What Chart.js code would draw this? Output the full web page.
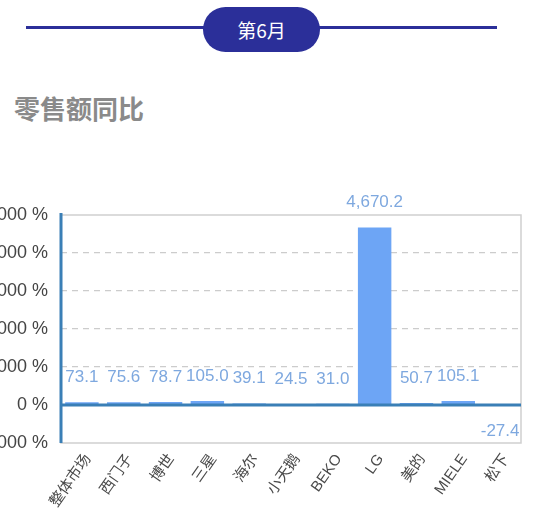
<!DOCTYPE html>
<html lang="zh">
<head>
    <meta charset="UTF-8">
    <title>零售额同比</title>
    <script src="https://cdn.jsdelivr.net/npm/chart.js"></script>
    <style>
        html, body { margin: 0; padding: 0; background: #fff; overflow: hidden; }
        body { width: 550px; height: 529px; position: relative; font-family: "Liberation Sans", "Noto Sans CJK SC", sans-serif; }
        .rule { position: absolute; left: 26px; top: 26px; width: 471px; height: 3px; background: #2b2f99; }
        .pill { position: absolute; left: 203px; top: 7px; width: 117px; height: 45px; border-radius: 23px;
                background: #2b2f99; color: #fff; font-size: 19px; line-height: 45px; text-align: center;
                font-family: "Noto Sans CJK SC", sans-serif; }
        .title { position: absolute; left: 14px; top: 89px; font-size: 26px; font-weight: bold; color: #8a8a8a;
                 font-family: "Noto Sans CJK SC", sans-serif; }
        .wrap { position: absolute; left: -20px; top: 180px; width: 570px; height: 349px; }
    </style>
</head>
<body>
    <div class="rule"></div>
    <div class="pill">第6月</div>
    <div class="title">零售额同比</div>
    <div class="wrap"><canvas id="yoyChart"></canvas></div>

    <script>
        const brands = ["整体市场", "西门子", "博世", "三星", "海尔", "小天鹅", "BEKO", "LG", "美的", "MIELE", "松下"];
        const yoyValues = [73.1, 75.6, 78.7, 105.0, 39.1, 24.5, 31.0, 4670.2, 50.7, 105.1, -27.4];
        const yMin = -1000, yMax = 5000, yStep = 1000;

        const fontFamily = '"Liberation Sans", "Noto Sans CJK SC", sans-serif';

        // value labels above / below each bar
        const valueLabels = {
            id: "valueLabels",
            afterDatasetsDraw(chart) {
                const ctx = chart.ctx;
                const meta = chart.getDatasetMeta(0);
                ctx.save();
                ctx.font = "17px " + fontFamily;
                ctx.fillStyle = "#7ea8df";
                ctx.textAlign = "center";
                ctx.textBaseline = "middle";
                meta.data.forEach((bar, i) => {
                    const v = yoyValues[i];
                    const txt = v.toLocaleString("en-US", { minimumFractionDigits: 1, maximumFractionDigits: 1 });
                    const y = v >= 0 ? bar.y - 25 : bar.y + 25;
                    ctx.fillText(txt, bar.x, y);
                });
                ctx.restore();
            }
        };

        // frame, zero line and left axis
        const frame = {
            id: "frame",
            beforeDatasetsDraw(chart) {
                const a = chart.chartArea;
                const ctx = chart.ctx;
                ctx.save();
                ctx.strokeStyle = "#cfcfcf";
                ctx.lineWidth = 1.5;
                ctx.strokeRect(a.left, a.top, a.right - a.left, a.bottom - a.top);
                ctx.restore();
            },
            afterDatasetsDraw(chart) {
                const a = chart.chartArea;
                const ctx = chart.ctx;
                const y0 = chart.scales.y.getPixelForValue(0);
                ctx.save();
                ctx.strokeStyle = "#3a7fb6";
                ctx.lineWidth = 3;
                ctx.beginPath();
                ctx.moveTo(a.left, y0);
                ctx.lineTo(a.right, y0);
                ctx.moveTo(a.left, a.top - 2);
                ctx.lineTo(a.left, a.bottom);
                ctx.stroke();
                ctx.restore();
            }
        };

        const ctx = document.getElementById("yoyChart").getContext("2d");
        new Chart(ctx, {
            type: "bar",
            data: {
                labels: brands,
                datasets: [{
                    data: yoyValues,
                    backgroundColor: "#6da5f5",
                    borderWidth: 0,
                    categoryPercentage: 0.8,
                    barPercentage: 1.0
                }]
            },
            options: {
                responsive: true,
                maintainAspectRatio: false,
                animation: false,
                layout: { padding: { top: 35, right: 29, left: 0, bottom: 0 } },
                plugins: { legend: { display: false }, tooltip: { enabled: false } },
                scales: {
                    x: {
                        grid: { display: false, drawTicks: false },
                        border: { display: false },
                        ticks: {
                            color: "#4a4a4a",
                            font: { size: 15, family: fontFamily },
                            minRotation: 55,
                            maxRotation: 55,
                            padding: 8,
                            labelOffset: 6
                        },
                        afterFit: s => { s.height = 86; }
                    },
                    y: {
                        min: yMin,
                        max: yMax,
                        grid: {
                            drawTicks: false,
                            color: c => (c.tick.value === 0 || c.tick.value === yMin || c.tick.value === yMax) ? "rgba(0,0,0,0)" : "#cccccc",
                            lineWidth: 1.3
                        },
                        border: { display: false, dash: [6, 5] },
                        ticks: {
                            stepSize: yStep,
                            color: "#444",
                            font: { size: 18, family: fontFamily },
                            padding: 13,
                            callback: v => v.toLocaleString("en-US") + " %"
                        },
                        afterFit: s => { s.width = 81; }
                    }
                }
            },
            plugins: [frame, valueLabels]
        });
    </script>
</body>
</html>
